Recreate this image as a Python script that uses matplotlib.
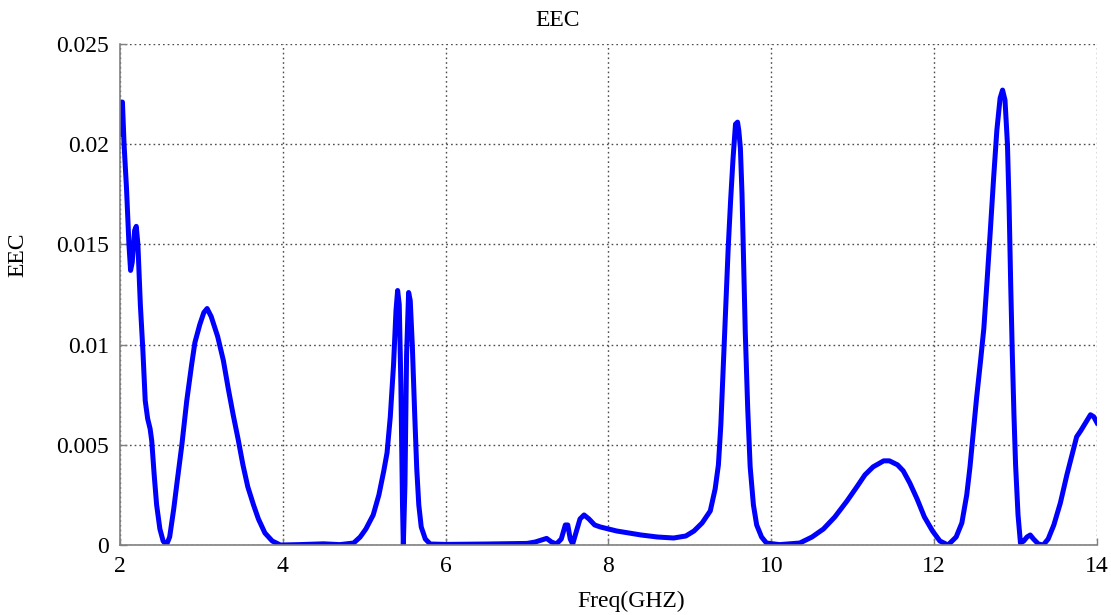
import matplotlib
matplotlib.use("Agg")
import matplotlib.pyplot as plt
from matplotlib.ticker import FormatStrFormatter

# EEC vs frequency (GHz)
freq = [2.00, 2.01, 2.03, 2.05, 2.08, 2.11, 2.13, 2.15, 2.18, 2.20, 2.22, 2.25,
        2.28, 2.31, 2.34, 2.37, 2.39, 2.42, 2.45, 2.49, 2.53, 2.57, 2.61, 2.66,
        2.70, 2.76, 2.82, 2.88, 2.92, 2.98, 3.03, 3.07, 3.12, 3.20, 3.27, 3.33,
        3.39, 3.45, 3.51, 3.57, 3.64, 3.70, 3.78, 3.87, 3.97, 4.20, 4.50, 4.70,
        4.87, 4.95, 5.02, 5.11, 5.18, 5.24, 5.28, 5.32, 5.36, 5.39, 5.41, 5.43,
        5.45, 5.47, 5.48, 5.50, 5.52, 5.545, 5.565, 5.59, 5.62, 5.645, 5.67, 5.70,
        5.75, 5.81, 6.00, 6.50, 7.00, 7.10, 7.18, 7.24, 7.30, 7.36, 7.42, 7.47,
        7.50, 7.53, 7.56, 7.60, 7.65, 7.70, 7.76, 7.83, 7.90, 8.00, 8.10, 8.25,
        8.40, 8.60, 8.80, 8.95, 9.05, 9.15, 9.25, 9.31, 9.35, 9.38, 9.41, 9.44,
        9.47, 9.50, 9.53, 9.56, 9.585, 9.60, 9.62, 9.64, 9.66, 9.68, 9.71, 9.74,
        9.78, 9.82, 9.88, 9.94, 10.10, 10.35, 10.50, 10.64, 10.78, 10.93, 11.05,
        11.15, 11.25, 11.38, 11.45, 11.55, 11.62, 11.70, 11.79, 11.88, 11.98,
        12.07, 12.17, 12.27, 12.34, 12.40, 12.44, 12.48, 12.52, 12.57, 12.61,
        12.65, 12.69, 12.73, 12.77, 12.81, 12.84, 12.87, 12.90, 12.92, 12.94,
        12.96, 12.98, 13.00, 13.03, 13.06, 13.10, 13.14, 13.18, 13.22, 13.28,
        13.34, 13.40, 13.47, 13.55, 13.63, 13.70, 13.75, 13.80, 13.86, 13.92,
        13.96, 14.00]

eec = [0.0205, 0.0221, 0.0221, 0.0200, 0.0178, 0.0150, 0.0137, 0.0141, 0.0157,
       0.0159, 0.0150, 0.0120, 0.0098, 0.0072, 0.0063, 0.0058, 0.0052, 0.0035,
       0.0020, 0.0008, 0.0002, 0.0000, 0.0004, 0.0018, 0.0031, 0.0050, 0.0072,
       0.0090, 0.0101, 0.0110, 0.0116, 0.0118, 0.0114, 0.0104, 0.0092, 0.0078,
       0.0065, 0.0053, 0.0040, 0.0029, 0.0020, 0.0013, 0.0006, 0.0002, 0.0000,
       0.00002, 0.00006, 0.00002, 0.0001, 0.0004, 0.0008, 0.0015, 0.0025,
       0.0037, 0.0046, 0.0064, 0.0090, 0.0117, 0.0127, 0.0120, 0.0080, 0.0020,
       0.0000, 0.0030, 0.0095, 0.0126, 0.0122, 0.0100, 0.0065, 0.0038, 0.0020,
       0.0009, 0.0003, 0.00005, 0.00003, 0.00005, 0.00008, 0.00015, 0.00025,
       0.00033, 0.00015, 0.00005, 0.0003, 0.0010, 0.0010, 0.0003, 0.00005,
       0.0006, 0.0013, 0.0015, 0.0013, 0.0010, 0.0009, 0.0008, 0.0007, 0.0006,
       0.0005, 0.0004, 0.00035, 0.00045, 0.0007, 0.0011, 0.0017, 0.0028, 0.0040,
       0.0060, 0.0089, 0.0118, 0.0148, 0.0172, 0.0193, 0.0210, 0.0211, 0.0207,
       0.0198, 0.0175, 0.0140, 0.0106, 0.0068, 0.0039, 0.0020, 0.0010, 0.0004,
       0.0001, 0.00002, 0.0001, 0.0004, 0.0008, 0.0014, 0.0022, 0.0029, 0.0035,
       0.0039, 0.0042, 0.0042, 0.0040, 0.0037, 0.0031, 0.0023, 0.0014, 0.0007,
       0.0002, 0.0000, 0.0004, 0.0011, 0.0025, 0.0039, 0.0056, 0.0073, 0.0092,
       0.0108, 0.0132, 0.0157, 0.0183, 0.0207, 0.0223, 0.0227, 0.0222, 0.0200,
       0.0170, 0.0130, 0.0095, 0.0065, 0.0040, 0.0015, 0.0001, 0.0002, 0.0004,
       0.0005, 0.0003, 0.00005, 0.0000, 0.0003, 0.0010, 0.0021, 0.0035, 0.0046,
       0.0054, 0.0057, 0.0061, 0.0065, 0.0064, 0.0061]

xticks = [2, 4, 6, 8, 10, 12, 14]
yticks = [0, 0.005, 0.01, 0.015, 0.02, 0.025]

plt.rcParams['font.family'] = ['Liberation Serif', 'DejaVu Serif']
plt.rcParams['font.size'] = 17

fig = plt.figure(figsize=(11.11, 6.15), dpi=100)
ax = fig.add_axes([0.108, 0.1138, 0.8794, 0.8147])

ax.plot(freq, eec, color=(0, 0, 1), linewidth=3.6, solid_joinstyle='round')

ax.set_xlim(2, 14)
ax.set_ylim(0, 0.025)
ax.set_xticks(xticks)
ax.set_yticks(yticks)
ax.yaxis.set_major_formatter(FormatStrFormatter('%g'))

ax.grid(True, color='0.3', linestyle=(0, (1.2, 2.2)), linewidth=1.0)
ax.set_axisbelow(True)
for side in ['top', 'right']:
    ax.spines[side].set_visible(False)
for side in ['left', 'bottom']:
    ax.spines[side].set_color('0.5')
    ax.spines[side].set_linewidth(1.2)
ax.tick_params(direction='in', length=5, color='0.5', width=1,
               labelsize=17, pad=8)

fig.text(558 / 1111, 1 - 21 / 615, 'EEC', ha='center', va='center', fontsize=17)
fig.text(631 / 1111, 1 - 601 / 615, 'Freq(GHZ)', ha='center', va='center',
         fontsize=17)
fig.text(18 / 1111, 1 - 255 / 615, 'EEC', ha='center', va='center',
         rotation=90, fontsize=17)

fig.savefig('out.png', dpi=100)
